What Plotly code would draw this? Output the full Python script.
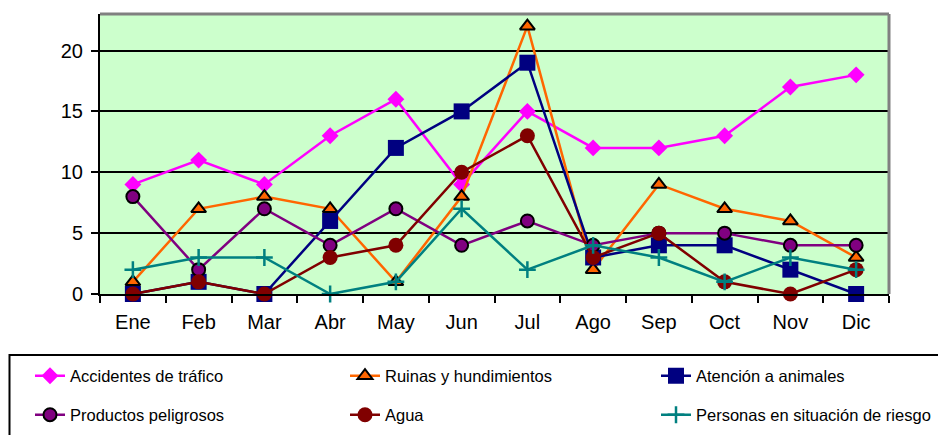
import plotly.graph_objects as go

months = ["Ene", "Feb", "Mar", "Abr", "May", "Jun", "Jul", "Ago", "Sep", "Oct", "Nov", "Dic"]

accidentes = [9, 11, 9, 13, 16, 9, 15, 12, 12, 13, 17, 18]
ruinas = [1, 7, 8, 7, 1, 8, 22, 2, 9, 7, 6, 3]
animales = [0, 1, 0, 6, 12, 15, 19, 3, 4, 4, 2, 0]
peligrosos = [8, 2, 7, 4, 7, 4, 6, 4, 5, 5, 4, 4]
agua = [0, 1, 0, 3, 4, 10, 13, 3, 5, 1, 0, 2]
personas = [2, 3, 3, 0, 1, 7, 2, 4, 3, 1, 3, 2]

FONT = "Liberation Sans, Arial, sans-serif"

# the page body has an 8px margin: the figure starts at (8, 8)
OFF = 8
W, H = 946 - OFF, 435 - OFF
L, R, T, B = 100 - OFF, 57, 14 - OFF, 141
pw = W - L - R
ph = H - T - B

def px_x(x):  # absolute page px -> paper
    return (x - OFF - L) / pw

def px_y(y):
    return (H - B - (y - OFF)) / ph

def cx(x):  # absolute page px -> container
    return (x - OFF) / W

def cy(y):
    return 1 - (y - OFF) / H

series = [
    ("Accidentes de tráfico", accidentes, "#FF00FF",
     dict(symbol="diamond", size=13, color="#FF00FF"), (30, 376)),
    ("Ruinas y hundimientos", ruinas, "#FF6600",
     dict(symbol="triangle-up", size=13, color="#FF6600", line=dict(color="black", width=2)), (345, 376)),
    ("Atención a animales", animales, "#000080",
     dict(symbol="square", size=16, color="#000080"), (656, 376)),
    ("Productos peligrosos", peligrosos, "#800080",
     dict(symbol="circle", size=13, color="#800080", line=dict(color="black", width=2)), (30, 415)),
    ("Agua", agua, "#800000",
     dict(symbol="circle", size=15, color="#800000"), (345, 415)),
    ("Personas en situación de riesgo", personas, "#008080",
     dict(symbol="cross-thin", size=12, line=dict(color="#008080", width=2.5)), (656, 415)),
]

fig = go.Figure()
legends = {}
for i, (name, vals, col, mk, pos) in enumerate(series):
    lg = "legend" if i == 0 else f"legend{i + 1}"
    fig.add_trace(go.Scatter(
        x=months, y=vals, name=name, mode="lines+markers",
        line=dict(color=col, width=2.5), marker=mk, legend=lg,
        cliponaxis=False,
    ))
    legends[lg] = dict(
        orientation="h", xref="container", yref="container",
        x=cx(pos[0]), y=cy(pos[1]), xanchor="left", yanchor="middle",
        font=dict(family=FONT, size=16.5, color="black"),
        bgcolor="rgba(0,0,0,0)", borderwidth=0, itemclick=False,
    )

shapes = [
    dict(type="line", xref="paper", yref="paper", x0=0, x1=1, y0=1, y1=1,
         line=dict(color="#808080", width=3)),
    dict(type="line", xref="paper", yref="paper", x0=1, x1=1, y0=0, y1=1,
         line=dict(color="#808080", width=3)),
    dict(type="rect", xref="paper", yref="paper",
         x0=px_x(9.5), x1=px_x(980), y0=px_y(470), y1=px_y(355),
         line=dict(color="black", width=2), fillcolor="rgba(0,0,0,0)", layer="above"),
]

fig.update_layout(
    width=W, height=H,
    margin=dict(l=L, r=R, t=T, b=B, pad=0, autoexpand=False),
    paper_bgcolor="white",
    plot_bgcolor="#CCFFCC",
    font=dict(family=FONT, color="black"),
    showlegend=True,
    shapes=shapes,
    xaxis=dict(
        type="category", showgrid=False, showline=True, linecolor="black", linewidth=2,
        ticks="outside", tickson="boundaries", ticklen=7, tickwidth=2, tickcolor="black",
        tickfont=dict(family=FONT, size=20, color="black"), zeroline=False,
        range=[-0.5, 11.5], ticklabelstandoff=9,
    ),
    yaxis=dict(
        range=[0, 23], tickvals=[0, 5, 10, 15, 20], showgrid=True, gridcolor="black", gridwidth=2,
        showline=True, linecolor="black", linewidth=2,
        ticks="outside", ticklen=7, tickwidth=2, tickcolor="black",
        tickfont=dict(family=FONT, size=20, color="black"), zeroline=False,
        ticklabelstandoff=4,
    ),
    **legends,
)

fig.write_html("out.html")
